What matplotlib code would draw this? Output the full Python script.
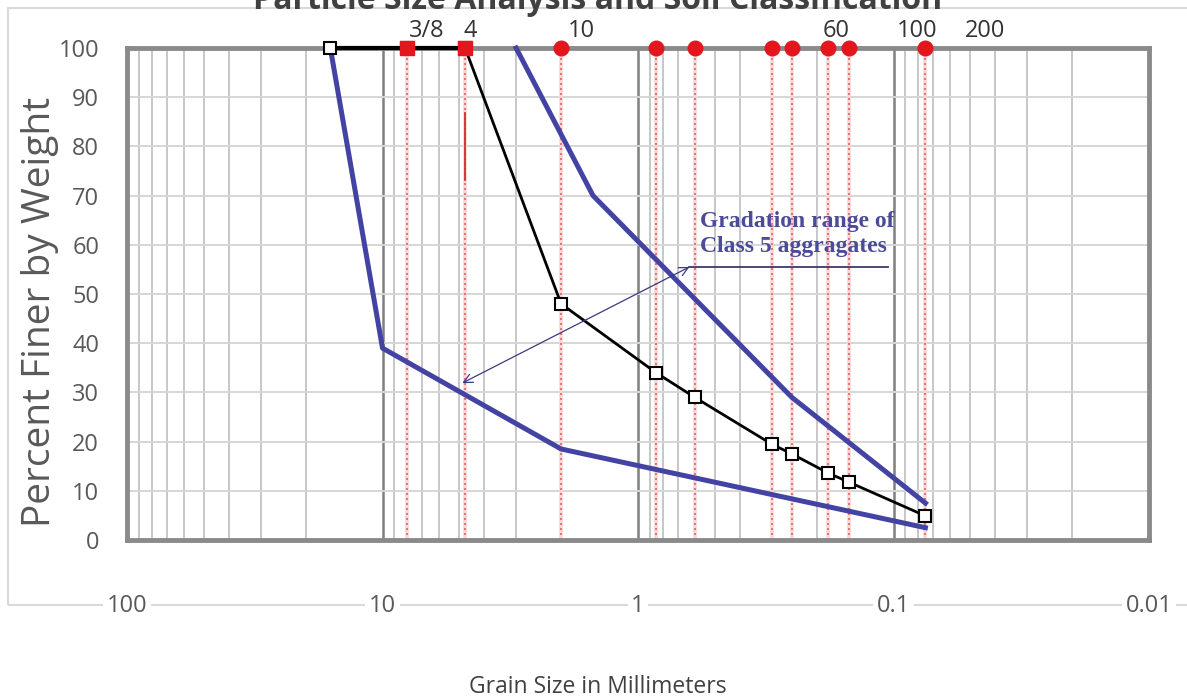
import matplotlib
matplotlib.use('Agg')
import matplotlib.pyplot as plt
from matplotlib.patches import Rectangle
import matplotlib.transforms as mtransforms
from matplotlib.ticker import LogLocator, NullFormatter

plt.rcParams['font.family'] = ['Open Sans', 'DejaVu Sans']

# ---------------- data ----------------
sieve_names = ["3/8", "4", "10", "60", "100", "200"]
sieve_name_x = [6.74, 4.53, 1.66, 0.167, 0.081, 0.0439]
sieve_sizes = [8.0, 4.75, 2.0, 0.85, 0.6, 0.3, 0.25, 0.18, 0.15, 0.075]
sieve_is_square = [True, True, False, False, False, False, False, False, False, False]

sample_size = [16.0, 8.0, 4.75, 2.0, 0.85, 0.6, 0.3, 0.25, 0.18, 0.15, 0.075]
sample_pct = [100, 100, 100, 48, 34, 29, 19.5, 17.5, 13.6, 11.8, 4.9]

upper_size = [3.0, 1.5, 0.25, 0.075]
upper_pct = [100, 70, 29, 7.5]
lower_size = [16.0, 10.0, 2.0, 0.075]
lower_pct = [100, 39, 18.5, 2.5]

x_ticks = [100, 10, 1, 0.1, 0.01]
x_tick_labels = ["100", "10", "1", "0.1", "0.01"]
y_ticks = list(range(0, 101, 10))

annot_text = "Gradation range of\nClass 5 aggragates"
annot_anchor = (0.629, 55.5)
annot_target = (4.87, 31.9)
annot_text_pos = (0.574, 57.6)
annot_underline_x = [0.629, 0.1054]

# ---------------- figure ----------------
W, H = 1187, 700
fig = plt.figure(figsize=(W / 100, H / 100), dpi=100)
fig.patch.set_facecolor('white')

# outer chart-area frame
fig.add_artist(Rectangle((8 / W, 1 - 605 / H), 1.2, (605 - 8) / H,
                         transform=fig.transFigure, fill=False,
                         ec='#d9d9d9', lw=1.5, zorder=0))

ax = fig.add_axes([127 / W, 1 - 540 / H, (1149 - 127) / W, (540 - 48) / H])
ax.set_xscale('log')
ax.set_xlim(100, 0.01)
ax.set_ylim(0, 100)

ax.set_xticks(x_ticks)
ax.xaxis.set_minor_locator(LogLocator(base=10, subs=range(2, 10), numticks=20))
ax.xaxis.set_minor_formatter(NullFormatter())
ax.set_yticks(y_ticks)
ax.set_yticklabels([str(v) for v in y_ticks])
ax.tick_params(which='both', length=0)
ax.tick_params(axis='x', labelbottom=False)
ax.tick_params(axis='y', labelsize=17, labelcolor='#595959', pad=20)

ax.grid(axis='y', which='major', color='#d6d6d6', lw=1.4)
ax.grid(axis='x', which='minor', color='#b8b8b8', lw=1.1)
ax.grid(axis='x', which='major', color='#7f7f7f', lw=1.8)
ax.set_axisbelow(True)

for sp in ax.spines.values():
    sp.set_color('#8a8a8a')
    sp.set_linewidth(3.5)
    sp.set_zorder(3)

# sieve verticals and markers
for s, sq in zip(sieve_sizes, sieve_is_square):
    ax.plot([s, s], [0, 100], color='#f9d7d7', lw=2.6, zorder=1.5, solid_capstyle='butt')
    ax.plot([s, s], [0, 100], color='#e06565', lw=1.2, ls=(0, (1.2, 1.8)), zorder=1.6)
ax.plot([sieve_sizes[1], sieve_sizes[1]], [73.2, 86.8], color='#cc3333', lw=1.3, zorder=1.7)

# gradation envelope
ax.plot(upper_size, upper_pct, color='#4343a3', lw=3.6, zorder=4, clip_on=False)
ax.plot(lower_size, lower_pct, color='#4343a3', lw=3.6, zorder=4, clip_on=False)

# sample curve
ax.plot(sample_size[:3], sample_pct[:3], color='black', lw=3.0, zorder=5, clip_on=False)
ax.plot(sample_size, sample_pct, color='black', lw=2.0, marker='s', ms=9,
        mfc='white', mec='black', mew=1.5, zorder=5, clip_on=False)

for s, sq in zip(sieve_sizes, sieve_is_square):
    ax.plot([s], [100], marker='s' if sq else 'o', ms=10 if sq else 10.5,
            color='#e3161d', mec='#e3161d', zorder=6, clip_on=False)

# annotation
ax.annotate('', xy=annot_target, xytext=annot_anchor,
            arrowprops=dict(arrowstyle='<->', color='#3a3a80', lw=0.9,
                            shrinkA=0, shrinkB=0, mutation_scale=16), zorder=7)
ax.plot(annot_underline_x, [annot_anchor[1]] * 2, color='#3a3a6a', lw=1.3, zorder=7)
ax.text(annot_text_pos[0], annot_text_pos[1], annot_text, ha='left', va='bottom',
        fontsize=17, fontweight='bold', family=['Liberation Serif', 'DejaVu Serif'],
        color='#4b4b98', linespacing=1.25, zorder=8)

# x tick labels below, sitting on the outer frame line
tr_x = mtransforms.blended_transform_factory(ax.transData, fig.transFigure)
for v, lab in zip(x_ticks, x_tick_labels):
    ax.text(v, 1 - 606 / H, lab, transform=tr_x, ha='center', va='center',
            fontsize=17, color='#595959', clip_on=False,
            bbox=dict(boxstyle='square,pad=0.15', fc='white', ec='none'))

# sieve numbers on top
for v, lab in zip(sieve_name_x, sieve_names):
    ax.text(v, 1 - 31 / H, lab, transform=tr_x, ha='center', va='center',
            fontsize=17, color='#333333', clip_on=False)

# axis titles
fig.text(40 / W, 1 - 312 / H, 'Percent Finer by Weight', rotation=90,
         ha='center', va='center', fontsize=28, color='#595959')
fig.text(598 / W, 1 - 687 / H, 'Grain Size in Millimeters', ha='center',
         va='center', fontsize=16.5, color='#404040')
fig.text(598 / W, 1 - 9 / H, 'Particle Size Analysis and Soil Classification',
         ha='center', va='baseline', fontsize=23, fontweight='bold', color='#404040')

fig.savefig('out.png', dpi=100)
